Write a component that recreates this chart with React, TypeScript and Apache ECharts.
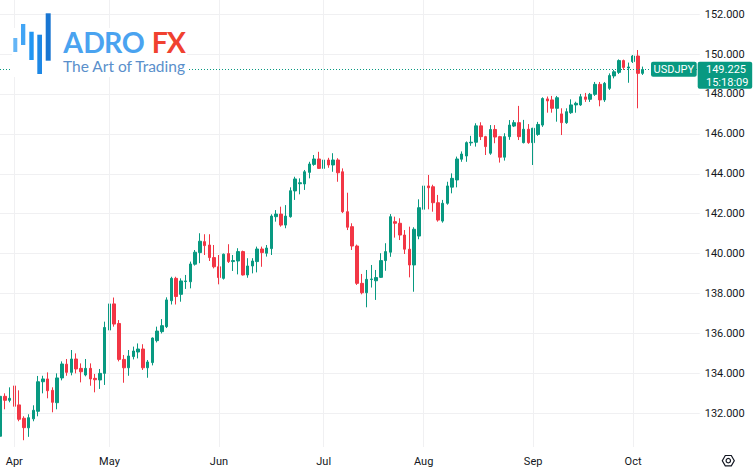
import React, { useEffect, useRef } from 'react';
import * as echarts from 'echarts';

// Trading days (daily candles, USDJPY)
const dates: string[] = [
  '2023-03-29', '2023-03-30', '2023-03-31',
  '2023-04-03', '2023-04-04', '2023-04-05', '2023-04-06', '2023-04-07', '2023-04-10', '2023-04-11', '2023-04-12', '2023-04-13', '2023-04-14',
  '2023-04-17', '2023-04-18', '2023-04-19', '2023-04-20', '2023-04-21', '2023-04-24', '2023-04-25', '2023-04-26', '2023-04-27', '2023-04-28',
  '2023-05-01', '2023-05-02', '2023-05-03', '2023-05-04', '2023-05-05', '2023-05-08', '2023-05-09', '2023-05-10', '2023-05-11', '2023-05-12',
  '2023-05-15', '2023-05-16', '2023-05-17', '2023-05-18', '2023-05-19', '2023-05-22', '2023-05-23', '2023-05-24', '2023-05-25', '2023-05-26',
  '2023-05-29', '2023-05-30', '2023-05-31',
  '2023-06-01', '2023-06-02', '2023-06-05', '2023-06-06', '2023-06-07', '2023-06-08', '2023-06-09', '2023-06-12', '2023-06-13', '2023-06-14',
  '2023-06-15', '2023-06-16', '2023-06-19', '2023-06-20', '2023-06-21', '2023-06-22', '2023-06-23', '2023-06-26', '2023-06-27', '2023-06-28',
  '2023-06-29', '2023-06-30',
  '2023-07-03', '2023-07-04', '2023-07-05', '2023-07-06', '2023-07-07', '2023-07-10', '2023-07-11', '2023-07-12', '2023-07-13', '2023-07-14',
  '2023-07-17', '2023-07-18', '2023-07-19', '2023-07-20', '2023-07-21', '2023-07-24', '2023-07-25', '2023-07-26', '2023-07-27', '2023-07-28',
  '2023-07-31',
  '2023-08-01', '2023-08-02', '2023-08-03', '2023-08-04', '2023-08-07', '2023-08-08', '2023-08-09', '2023-08-10', '2023-08-11', '2023-08-14',
  '2023-08-15', '2023-08-16', '2023-08-17', '2023-08-18', '2023-08-21', '2023-08-22', '2023-08-23', '2023-08-24', '2023-08-25', '2023-08-28',
  '2023-08-29', '2023-08-30', '2023-08-31',
  '2023-09-01', '2023-09-04', '2023-09-05', '2023-09-06', '2023-09-07', '2023-09-08', '2023-09-11', '2023-09-12', '2023-09-13', '2023-09-14',
  '2023-09-15', '2023-09-18', '2023-09-19', '2023-09-20', '2023-09-21', '2023-09-22', '2023-09-25', '2023-09-26', '2023-09-27', '2023-09-28',
  '2023-09-29',
  '2023-10-02', '2023-10-03', '2023-10-04',
];

const opens: number[] = [
  130.85, 132.85, 132.65, 133.37, 132.42, 131.75, 131.27, 131.72, 132.1, 133.58,
  133.72, 133.15, 132.53, 133.77, 134.46, 134.05, 134.72, 134.25, 133.92, 134.25,
  133.75, 133.67, 134.0, 136.17, 137.48, 136.5, 134.7, 134.28, 134.84, 135.07,
  135.22, 134.28, 134.54, 135.64, 136.09, 136.34, 137.64, 138.76, 137.96, 138.6,
  138.59, 139.47, 140.05, 140.6, 140.43, 139.8, 139.34, 138.76, 140.0, 139.6,
  139.63, 140.1, 138.93, 139.38, 139.6, 140.23, 140.02, 140.25, 141.85, 141.98,
  141.43, 141.85, 143.14, 143.5, 143.49, 144.07, 144.47, 144.74, 144.27, 144.69,
  144.44, 144.69, 144.1, 142.1, 141.35, 140.38, 138.51, 138.04, 138.7, 138.64,
  138.81, 139.65, 140.07, 141.6, 141.52, 140.93, 140.22, 139.43, 140.88, 142.22,
  143.39, 143.35, 142.55, 141.63, 142.52, 143.33, 143.69, 144.73, 144.89, 145.55,
  145.58, 146.4, 145.86, 145.03, 146.22, 145.86, 144.83, 145.86, 146.39, 146.56,
  145.56, 146.23, 145.56, 145.97, 146.44, 147.75, 147.7, 147.28, 147.0, 146.56,
  147.06, 147.45, 147.45, 147.85, 147.73, 147.98, 148.48, 147.7, 148.28, 148.9,
  149.08, 149.67, 149.3, 149.62, 149.9, 149.03,
];

const closes: number[] = [
  132.85, 132.65, 132.75, 132.35, 131.7, 131.28, 131.78, 132.15, 133.58, 133.72,
  133.13, 132.55, 133.77, 134.47, 134.05, 134.72, 134.22, 134.08, 134.25, 133.72,
  133.68, 134.0, 136.3, 137.48, 136.47, 134.7, 134.28, 134.87, 135.12, 135.22,
  134.28, 134.57, 135.77, 136.12, 136.39, 137.68, 138.76, 137.85, 138.63, 138.63,
  139.48, 140.07, 140.62, 140.4, 139.8, 139.34, 138.8, 139.97, 139.6, 139.65,
  140.1, 138.93, 139.38, 139.63, 140.23, 140.05, 140.28, 141.88, 141.98, 141.43,
  141.88, 143.15, 143.74, 143.55, 144.1, 144.49, 144.74, 144.27, 144.69, 144.44,
  144.69, 144.05, 142.1, 141.32, 140.38, 138.51, 138.04, 138.71, 138.73, 138.8,
  139.65, 140.1, 141.85, 141.52, 140.93, 140.22, 139.43, 141.22, 142.3, 143.39,
  143.3, 142.55, 141.68, 142.52, 143.39, 143.77, 144.74, 144.99, 145.56, 145.58,
  146.4, 145.86, 145.36, 146.22, 145.84, 144.83, 145.86, 146.44, 146.56, 145.86,
  146.23, 145.56, 146.28, 146.47, 147.77, 147.65, 147.28, 147.81, 146.56, 147.11,
  147.45, 147.53, 147.86, 147.73, 147.98, 148.48, 147.7, 148.53, 148.92, 149.11,
  149.67, 149.33, 149.35, 149.9, 149.03, 149.225,
];

const lows: number[] = [
  130.6, 132.2, 132.55, 132.2, 131.6, 130.65, 130.82, 131.6, 131.85, 133.0,
  132.75, 132.05, 132.2, 133.65, 133.88, 133.9, 134.0, 133.55, 133.85, 133.38,
  133.05, 133.22, 133.42, 136.1, 136.34, 134.6, 133.53, 133.88, 134.7, 134.75,
  134.17, 133.78, 134.4, 135.55, 136.0, 136.27, 137.45, 137.45, 137.59, 138.23,
  138.26, 139.4, 139.52, 139.93, 139.63, 139.26, 138.46, 138.7, 139.53, 139.13,
  138.96, 138.9, 138.79, 139.01, 139.06, 139.34, 139.85, 139.93, 141.6, 141.35,
  141.27, 141.8, 142.69, 142.97, 143.19, 143.77, 144.4, 144.24, 144.02, 144.3,
  144.1, 143.6, 142.03, 141.18, 140.18, 138.43, 137.96, 137.31, 138.3, 137.68,
  138.78, 139.14, 139.84, 140.8, 140.68, 139.98, 138.81, 138.09, 140.72, 142.2,
  142.22, 142.1, 141.6, 141.55, 142.45, 143.02, 143.32, 144.6, 144.6, 145.4,
  145.36, 145.69, 144.94, 144.95, 145.53, 144.56, 144.66, 145.7, 146.34, 145.69,
  145.52, 145.5, 144.44, 145.9, 146.35, 147.06, 147.06, 146.61, 145.94, 146.5,
  147.0, 147.06, 147.4, 147.6, 147.6, 147.9, 147.38, 147.6, 148.2, 148.78,
  149.0, 149.2, 148.56, 149.55, 147.28, 148.95,
];

const highs: number[] = [
  132.95, 133.0, 133.3, 133.75, 133.15, 131.85, 131.95, 132.4, 133.87, 133.88,
  134.05, 133.3, 134.0, 134.6, 134.72, 135.17, 135.0, 134.5, 134.72, 134.5,
  133.97, 134.22, 136.59, 137.8, 137.8, 136.67, 134.92, 135.17, 135.34, 135.5,
  135.46, 134.67, 135.8, 136.34, 136.72, 137.81, 138.84, 138.84, 138.76, 138.93,
  139.6, 140.18, 141.02, 140.97, 140.97, 140.43, 139.93, 140.0, 140.47, 139.93,
  140.27, 140.15, 139.77, 139.77, 140.35, 140.35, 140.43, 141.97, 142.18, 142.35,
  142.43, 143.32, 143.85, 143.77, 144.19, 144.6, 144.94, 145.1, 144.94, 144.8,
  145.03, 144.78, 144.27, 143.05, 141.52, 140.45, 138.98, 139.18, 139.43, 139.18,
  140.02, 140.52, 141.98, 141.85, 141.77, 141.18, 141.35, 141.32, 142.72, 143.6,
  143.94, 143.45, 142.94, 142.69, 143.6, 144.02, 144.86, 145.12, 145.62, 145.9,
  146.53, 146.58, 145.9, 146.44, 146.44, 145.9, 146.03, 146.69, 146.69, 147.4,
  146.7, 146.49, 146.3, 146.6, 147.83, 147.87, 147.9, 147.9, 147.28, 147.28,
  147.73, 147.61, 148.0, 148.05, 148.05, 148.6, 148.6, 148.6, 149.03, 149.2,
  149.73, 149.72, 149.57, 149.95, 150.2, 149.37,
];

const monthNames: string[] = ['Jan', 'Feb', 'Mar', 'Apr', 'May', 'Jun', 'Jul', 'Aug', 'Sep', 'Oct', 'Nov', 'Dec'];
const symbolName = 'USDJPY';
const lastPrice = 149.225;
const clockText = '15:18:09';
const logoLetters: string[] = ['A', 'D', 'R', 'O'];
const logoLettersFx: string[] = ['F', 'X'];
const logoTagline = 'The Art of Trading';

const UP = '#089981';
const DOWN = '#F23645';
const GRID = '#f0f0f2';
const TEXT = '#131722';
const FONT = 'Roboto, "Liberation Sans", Arial, sans-serif';
const LOGO_FONT = 'Lato, "Open Sans", sans-serif';
const PAD_BARS = 12;

export default function App() {
  const ref = useRef<HTMLDivElement>(null);

  useEffect(() => {
    if (!ref.current) return;
    const chart = echarts.init(ref.current, null, { renderer: 'svg' });

    const cats = [...dates, ...Array.from({ length: PAD_BARS }, (_, k) => `pad${k}`)];
    const candles = dates.map((_, i) => [opens[i], closes[i], lows[i], highs[i]]);
    const isMonthStart = (i: number) =>
      i > 0 && i < dates.length && dates[i].slice(5, 7) !== dates[i - 1].slice(5, 7);
    const monthStarts = dates.filter((_, i) => isMonthStart(i));
    const isEvenTick = (v: number) => Math.abs(v / 2 - Math.round(v / 2)) < 1e-6;

    chart.setOption({
      animation: false,
      backgroundColor: '#ffffff',
      grid: { left: 0, top: 0, width: 4.76 * (cats.length - 1), height: 453.2 },
      xAxis: {
        type: 'category',
        data: cats,
        boundaryGap: false,
        axisLine: { show: false },
        axisTick: { show: false },
        splitLine: { show: false },
        axisLabel: {
          interval: (i: number) => isMonthStart(i),
          formatter: (v: string) => monthNames[parseInt(v.slice(5, 7), 10) - 1] || '',
          color: TEXT,
          fontSize: 11,
          fontFamily: FONT,
          margin: 3,
        },
      },
      yAxis: {
        type: 'value',
        position: 'right',
        min: 130,
        max: 152.706,
        interval: 2,
        axisLine: { show: false },
        axisTick: { show: false },
        splitLine: { show: true, showMinLine: false, showMaxLine: false, lineStyle: { color: GRID, width: 1 } },
        axisLabel: {
          formatter: (v: number) => (v < 131 || !isEvenTick(v) ? '' : v.toFixed(3)),
          showMaxLabel: false,
          color: TEXT,
          fontSize: 11,
          fontFamily: FONT,
          margin: 5,
        },
      },
      series: [
        {
          type: 'line',
          data: [],
          z: 1,
          silent: true,
          markLine: {
            silent: true,
            symbol: ['none', 'none'],
            label: { show: false },
            lineStyle: { color: GRID, width: 1, type: 'solid' },
            emphasis: { disabled: true },
            data: monthStarts.map((d) => [{ coord: [d, 130.31] }, { coord: [d, 152.706] }]),
          },
        },
        {
          type: 'candlestick',
          data: candles,
          z: 3,
          barWidth: 3,
          itemStyle: {
            color: UP,
            color0: DOWN,
            borderColor: UP,
            borderColor0: DOWN,
            borderColorDoji: UP,
            borderWidth: 1,
          },
          markLine: {
            silent: true,
            symbol: ['none', 'none'],
            label: { show: false },
            lineStyle: { color: UP, width: 1, type: [1, 2] },
            emphasis: { disabled: true },
            data: [{ yAxis: lastPrice }],
          },
        },
      ],
    });

    const py = chart.convertToPixel({ yAxisIndex: 0 }, lastPrice) as number;

    const hexR = 6;
    const hexC = [728.3, 460.7];
    const hexPts = Array.from({ length: 6 }, (_, k) => {
      const a = (Math.PI / 3) * k;
      return [hexC[0] + hexR * Math.cos(a), hexC[1] + hexR * Math.sin(a)];
    });

    const letterX = [63.3, 83.3, 104, 121.7];
    const fxX = [151.7, 166.7];

    chart.setOption({
      graphic: [
        // logo backdrop
        { type: 'rect', z: 100, shape: { x: 12, y: 28, width: 175, height: 49 }, style: { fill: '#ffffff' } },
        { type: 'rect', z: 101, shape: { x: 13.3, y: 38, width: 4, height: 14 }, style: { fill: '#64b5f6' } },
        { type: 'rect', z: 101, shape: { x: 21, y: 24, width: 4.3, height: 21 }, style: { fill: '#42a5f5' } },
        { type: 'rect', z: 101, shape: { x: 29.3, y: 31.7, width: 4.4, height: 28.3 }, style: { fill: '#2196f3' } },
        { type: 'rect', z: 101, shape: { x: 37.3, y: 34.7, width: 4.7, height: 39.3 }, style: { fill: '#1e88e5' } },
        { type: 'rect', z: 101, shape: { x: 45.7, y: 13.3, width: 5, height: 47.4 }, style: { fill: '#1976d2' } },
        ...logoLetters.map((ch, k) => ({
          type: 'text', z: 101, x: letterX[k], y: 42,
          style: { text: ch, fill: '#4aa3f0', fontSize: 28.5, fontWeight: 'bold', fontFamily: LOGO_FONT, textAlign: 'left', textVerticalAlign: 'middle' },
        })),
        ...logoLettersFx.map((ch, k) => ({
          type: 'text', z: 101, x: fxX[k], y: 42,
          style: { text: ch, fill: '#f0412f', fontSize: 28.5, fontWeight: 'bold', fontFamily: LOGO_FONT, textAlign: 'left', textVerticalAlign: 'middle' },
        })),
        {
          type: 'text', z: 101, x: 63, y: 66,
          style: { text: logoTagline, fill: '#5a8fcb', fontSize: 15.5, fontFamily: LOGO_FONT, textAlign: 'left', textVerticalAlign: 'middle' },
        },
        // price label
        { type: 'rect', z: 110, shape: { x: 651, y: py - 7.8, width: 45.7, height: 15, r: 2 }, style: { fill: UP } },
        {
          type: 'text', z: 111, x: 673.8, y: py - 0.3,
          style: { text: symbolName, fill: '#ffffff', fontSize: 11, fontFamily: FONT, textAlign: 'center', textVerticalAlign: 'middle' },
        },
        { type: 'rect', z: 110, shape: { x: 697.7, y: py - 7.8, width: 54.5, height: 27, r: 2 }, style: { fill: UP } },
        {
          type: 'text', z: 111, x: 706, y: py + 0.5,
          style: { text: lastPrice.toFixed(3), fill: '#ffffff', fontSize: 11, fontFamily: FONT, textAlign: 'left', textVerticalAlign: 'middle' },
        },
        {
          type: 'text', z: 111, x: 706, y: py + 13.2,
          style: { text: clockText, fill: '#ffffff', fontSize: 11, fontFamily: FONT, textAlign: 'left', textVerticalAlign: 'middle' },
        },
        // settings icon
        { type: 'polygon', z: 110, shape: { points: hexPts }, style: { fill: 'none', stroke: TEXT, lineWidth: 1.2 } },
        { type: 'circle', z: 110, shape: { cx: hexC[0], cy: hexC[1], r: 2.2 }, style: { fill: 'none', stroke: TEXT, lineWidth: 1.2 } },
      ],
    });

    return () => {
      chart.dispose();
    };
  }, []);

  return (
    <div
      ref={ref}
      style={{ position: 'fixed', left: 0, top: 0, width: 755, height: 475, background: '#ffffff' }}
    />
  );
}
